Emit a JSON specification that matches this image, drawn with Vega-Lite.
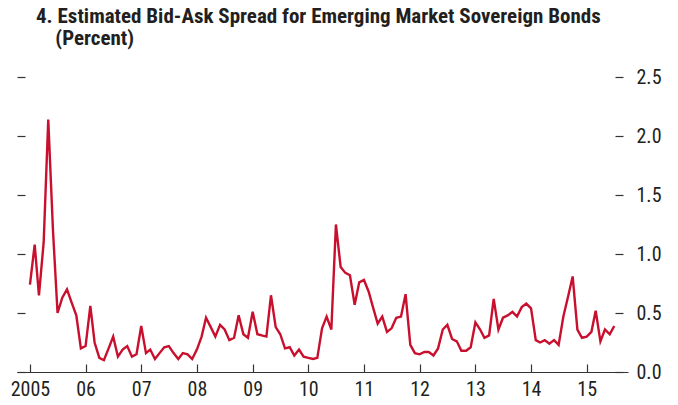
{
  "$schema": "https://vega.github.io/schema/vega-lite/v6.json",
  "autosize": "none",
  "width": 611,
  "height": 295,
  "padding": {"left": 17, "top": 77, "right": 50, "bottom": 33},
  "background": "white",
  "title": {
    "text": ["4. Estimated Bid-Ask Spread for Emerging Market Sovereign Bonds", "\u200b\u00a0\u00a0\u00a0\u00a0(Percent)"],
    "anchor": "start",
    "frame": "group",
    "dx": 19,
    "offset": 18,
    "font": "Roboto Condensed, Liberation Sans Narrow, DejaVu Sans Condensed, sans-serif",
    "fontSize": 21,
    "fontWeight": "bold",
    "lineHeight": 22,
    "color": "#231f20"
  },
  "config": {
    "view": {"stroke": null},
    "axis": {
      "grid": false,
      "labelFont": "Roboto Condensed, Liberation Sans Narrow, DejaVu Sans Condensed, sans-serif",
      "labelFontSize": 20,
      "labelColor": "#231f20",
      "domainColor": "#333333",
      "tickColor": "#333333",
      "tickWidth": 1.2,
      "domainWidth": 1.2,
      "title": null
    }
  },
  "data": {
    "values": [
      {"d":"2005-01-01","v":0.74},{"d":"2005-02-01","v":1.08},{"d":"2005-03-01","v":0.65},{"d":"2005-04-01","v":1.10},
      {"d":"2005-05-01","v":2.14},{"d":"2005-06-01","v":1.20},{"d":"2005-07-01","v":0.50},{"d":"2005-08-01","v":0.63},
      {"d":"2005-09-01","v":0.70},{"d":"2005-10-01","v":0.59},{"d":"2005-11-01","v":0.48},{"d":"2005-12-01","v":0.20},
      {"d":"2006-01-01","v":0.22},{"d":"2006-02-01","v":0.56},{"d":"2006-03-01","v":0.25},{"d":"2006-04-01","v":0.12},
      {"d":"2006-05-01","v":0.10},{"d":"2006-06-01","v":0.20},{"d":"2006-07-01","v":0.30},{"d":"2006-08-01","v":0.13},
      {"d":"2006-09-01","v":0.19},{"d":"2006-10-01","v":0.22},{"d":"2006-11-01","v":0.13},{"d":"2006-12-01","v":0.15},
      {"d":"2007-01-01","v":0.39},{"d":"2007-02-01","v":0.16},{"d":"2007-03-01","v":0.19},{"d":"2007-04-01","v":0.11},
      {"d":"2007-05-01","v":0.16},{"d":"2007-06-01","v":0.21},{"d":"2007-07-01","v":0.22},{"d":"2007-08-01","v":0.16},
      {"d":"2007-09-01","v":0.11},{"d":"2007-10-01","v":0.16},{"d":"2007-11-01","v":0.15},{"d":"2007-12-01","v":0.11},
      {"d":"2008-01-01","v":0.19},{"d":"2008-02-01","v":0.30},{"d":"2008-03-01","v":0.46},{"d":"2008-04-01","v":0.38},
      {"d":"2008-05-01","v":0.30},{"d":"2008-06-01","v":0.40},{"d":"2008-07-01","v":0.36},{"d":"2008-08-01","v":0.27},
      {"d":"2008-09-01","v":0.29},{"d":"2008-10-01","v":0.48},{"d":"2008-11-01","v":0.32},{"d":"2008-12-01","v":0.29},
      {"d":"2009-01-01","v":0.51},{"d":"2009-02-01","v":0.32},{"d":"2009-03-01","v":0.31},{"d":"2009-04-01","v":0.30},
      {"d":"2009-05-01","v":0.65},{"d":"2009-06-01","v":0.38},{"d":"2009-07-01","v":0.32},{"d":"2009-08-01","v":0.20},
      {"d":"2009-09-01","v":0.21},{"d":"2009-10-01","v":0.14},{"d":"2009-11-01","v":0.19},{"d":"2009-12-01","v":0.13},
      {"d":"2010-01-01","v":0.12},{"d":"2010-02-01","v":0.11},{"d":"2010-03-01","v":0.12},{"d":"2010-04-01","v":0.37},
      {"d":"2010-05-01","v":0.47},{"d":"2010-06-01","v":0.36},{"d":"2010-07-01","v":1.25},{"d":"2010-08-01","v":0.89},
      {"d":"2010-09-01","v":0.84},{"d":"2010-10-01","v":0.82},{"d":"2010-11-01","v":0.57},{"d":"2010-12-01","v":0.76},
      {"d":"2011-01-01","v":0.78},{"d":"2011-02-01","v":0.68},{"d":"2011-03-01","v":0.55},{"d":"2011-04-01","v":0.41},
      {"d":"2011-05-01","v":0.47},{"d":"2011-06-01","v":0.34},{"d":"2011-07-01","v":0.37},{"d":"2011-08-01","v":0.46},
      {"d":"2011-09-01","v":0.47},{"d":"2011-10-01","v":0.66},{"d":"2011-11-01","v":0.23},{"d":"2011-12-01","v":0.16},
      {"d":"2012-01-01","v":0.15},{"d":"2012-02-01","v":0.17},{"d":"2012-03-01","v":0.17},{"d":"2012-04-01","v":0.14},
      {"d":"2012-05-01","v":0.20},{"d":"2012-06-01","v":0.36},{"d":"2012-07-01","v":0.40},{"d":"2012-08-01","v":0.28},
      {"d":"2012-09-01","v":0.26},{"d":"2012-10-01","v":0.18},{"d":"2012-11-01","v":0.18},{"d":"2012-12-01","v":0.21},
      {"d":"2013-01-01","v":0.42},{"d":"2013-02-01","v":0.36},{"d":"2013-03-01","v":0.29},{"d":"2013-04-01","v":0.31},
      {"d":"2013-05-01","v":0.62},{"d":"2013-06-01","v":0.36},{"d":"2013-07-01","v":0.46},{"d":"2013-08-01","v":0.48},
      {"d":"2013-09-01","v":0.51},{"d":"2013-10-01","v":0.47},{"d":"2013-11-01","v":0.55},{"d":"2013-12-01","v":0.58},
      {"d":"2014-01-01","v":0.54},{"d":"2014-02-01","v":0.27},{"d":"2014-03-01","v":0.25},{"d":"2014-04-01","v":0.27},
      {"d":"2014-05-01","v":0.24},{"d":"2014-06-01","v":0.27},{"d":"2014-07-01","v":0.23},{"d":"2014-08-01","v":0.47},
      {"d":"2014-09-01","v":0.64},{"d":"2014-10-01","v":0.81},{"d":"2014-11-01","v":0.36},{"d":"2014-12-01","v":0.29},
      {"d":"2015-01-01","v":0.30},{"d":"2015-02-01","v":0.34},{"d":"2015-03-01","v":0.52},{"d":"2015-04-01","v":0.26},
      {"d":"2015-05-01","v":0.36},{"d":"2015-06-01","v":0.32},{"d":"2015-07-01","v":0.39}
    ]
  },
  "encoding": {
    "x": {
      "field": "d",
      "type": "temporal",
      "scale": {
        "type": "utc",
        "domain": [
          {"year": 2004, "month": 10, "date": 8, "utc": true},
          {"year": 2015, "month": 9, "date": 29, "utc": true}
        ]
      },
      "axis": {
        "orient": "bottom",
        "tickCount": "year",
        "tickSize": -8,
        "labelPadding": 15,
        "labelExpr": "utcFormat(datum.value, '%Y') == '2005' ? '2005' : utcFormat(datum.value, '%y')",
        "labelFlush": false,
        "labelOverlap": false
      }
    }
  },
  "layer": [
    {
      "mark": {"type": "line", "opacity": 0},
      "encoding": {
        "y": {
          "field": "v",
          "type": "quantitative",
          "scale": {"domain": [0, 2.5], "nice": false, "zero": true},
          "axis": {
            "orient": "left",
            "values": [0, 0.5, 1, 1.5, 2, 2.5],
            "labels": false,
            "domain": false,
            "offset": -8,
            "tickSize": 8
          }
        }
      }
    },
    {
      "mark": {"type": "line", "color": "#c8102e", "strokeWidth": 2.4, "strokeJoin": "miter"},
      "encoding": {
        "y": {
          "field": "v",
          "type": "quantitative",
          "scale": {"domain": [0, 2.5], "nice": false, "zero": true},
          "axis": {
            "orient": "right",
            "values": [0, 0.5, 1, 1.5, 2, 2.5],
            "format": ".1f",
            "domain": false,
            "offset": -13,
            "tickSize": 8,
            "labelPadding": 13
          }
        }
      }
    }
  ],
  "resolve": {"axis": {"y": "independent"}}
}
